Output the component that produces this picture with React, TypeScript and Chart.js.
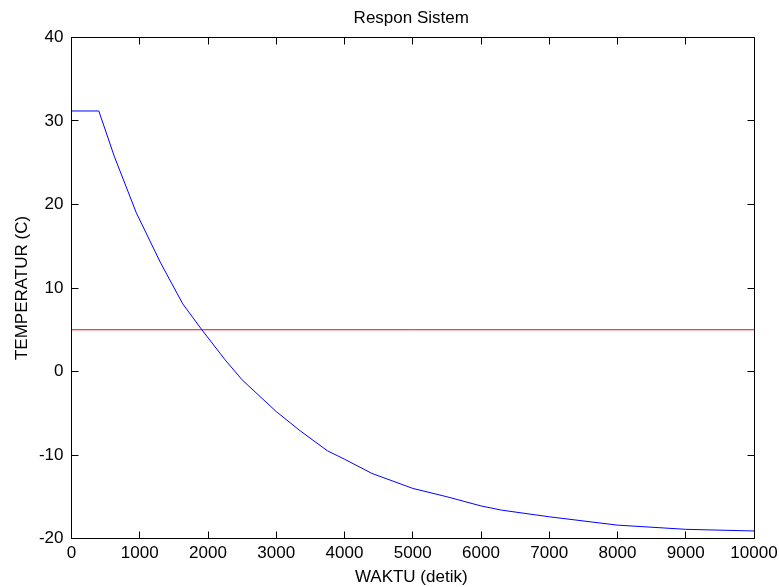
import React, { useEffect, useRef } from "react";
import { Chart, registerables } from "chart.js";

Chart.register(...registerables);

// Time (detik) and temperature (C)
const timeValues = [0, 400, 630, 950, 1300, 1630, 1910, 2250, 2500, 3000, 3350, 3750, 4000, 4400, 5000, 5500, 6000, 6300, 7000, 8000, 9000, 10000];
const tempValues = [31.2, 31.2, 25.7, 19.0, 13.1, 8.1, 5.0, 1.4, -1.0, -4.8, -7.1, -9.5, -10.5, -12.2, -14.0, -15.0, -16.1, -16.6, -17.4, -18.4, -18.9, -19.1];
const setpointTimes = [0, 10000];
const setpointValues = [5, 5];

const xTicks = [0, 1000, 2000, 3000, 4000, 5000, 6000, 7000, 8000, 9000, 10000];
const yTicks = [-20, -10, 0, 10, 20, 30, 40];

const titleText = "Respon Sistem";
const xTitle = "WAKTU (detik)";
const yTitle = "TEMPERATUR (C)";

const SANS = '"Liberation Sans", Arial, sans-serif';

const framePlugin = {
  id: "matlabFrame",
  afterDraw(chart: any) {
    const { ctx, chartArea } = chart;
    const { left, right, top, bottom } = chartArea;
    const xs = chart.scales.x;
    const ys = chart.scales.y;
    const crisp = (p: number) => Math.round(p - 0.5) + 0.5;
    ctx.save();
    ctx.strokeStyle = "#000";
    ctx.lineWidth = 1;
    ctx.beginPath();
    ctx.rect(crisp(left), crisp(top), crisp(right) - crisp(left), crisp(bottom) - crisp(top));
    ctx.stroke();
    const tl = 7;
    ctx.beginPath();
    xTicks.forEach((v) => {
      const px = crisp(xs.getPixelForValue(v));
      ctx.moveTo(px, crisp(bottom));
      ctx.lineTo(px, crisp(bottom) - tl);
      ctx.moveTo(px, crisp(top));
      ctx.lineTo(px, crisp(top) + tl);
    });
    yTicks.forEach((v) => {
      const py = crisp(ys.getPixelForValue(v));
      ctx.moveTo(crisp(left), py);
      ctx.lineTo(crisp(left) + tl, py);
      ctx.moveTo(crisp(right), py);
      ctx.lineTo(crisp(right) - tl, py);
    });
    ctx.stroke();

    const cx = (left + right) / 2 - 1.5;
    ctx.fillStyle = "#000";
    ctx.font = `17px ${SANS}`;
    ctx.textAlign = "center";
    ctx.textBaseline = "alphabetic";
    ctx.fillText(titleText, cx, 22.7);
    ctx.fillText(xTitle, cx, 582);

    ctx.translate(27, (top + bottom) / 2);
    ctx.rotate(-Math.PI / 2);
    ctx.fillText(yTitle, 0, 0);
    ctx.restore();
  },
};

export default function App() {
  const canvasRef = useRef<HTMLCanvasElement | null>(null);

  useEffect(() => {
    document.body.style.margin = "0";
    const canvas = canvasRef.current;
    if (!canvas) return;
    const chart = new Chart(canvas, {
      type: "line",
      data: {
        datasets: [
          {
            label: "Respon",
            data: timeValues.map((t, i) => ({ x: t, y: tempValues[i] })),
            borderColor: "#0000ff",
            borderWidth: 1,
            pointRadius: 0,
            tension: 0,
            fill: false,
          },
          {
            label: "Setpoint",
            data: setpointTimes.map((t, i) => ({ x: t, y: setpointValues[i] })),
            borderColor: "#ff0000",
            borderWidth: 1,
            pointRadius: 0,
            tension: 0,
            fill: false,
          },
        ],
      },
      options: {
        animation: false,
        responsive: false,
        devicePixelRatio: 1,
        layout: { padding: { left: 0, top: 37.5, right: 25, bottom: 0 } },
        plugins: {
          legend: { display: false },
          title: { display: false },
          tooltip: { enabled: false },
        },
        scales: {
          x: {
            type: "linear",
            min: 0,
            max: 10000,
            afterBuildTicks: (scale: any) => {
              scale.ticks = xTicks.map((v) => ({ value: v }));
            },
            afterFit: (scale: any) => {
              scale.height = 48.5;
              scale.paddingLeft = 0;
              scale.paddingRight = 0;
            },
            grid: { display: false, drawTicks: false },
            border: { display: false },
            ticks: {
              padding: 5,
              maxRotation: 0,
              autoSkip: false,
              color: "#000",
              font: { family: SANS, size: 17 },
              callback: (v: any) => String(v),
            },
          },
          y: {
            type: "linear",
            min: -20,
            max: 40,
            afterBuildTicks: (scale: any) => {
              scale.ticks = yTicks.map((v) => ({ value: v }));
            },
            afterFit: (scale: any) => {
              scale.width = 71.5;
              scale.paddingTop = 0;
              scale.paddingBottom = 0;
            },
            grid: { display: false, drawTicks: false },
            border: { display: false },
            ticks: {
              padding: 8,
              autoSkip: false,
              color: "#000",
              font: { family: SANS, size: 17 },
              callback: (v: any) => String(v),
            },
          },
        },
      },
      plugins: [framePlugin],
    });
    return () => chart.destroy();
  }, []);

  return (
    <div style={{ position: "fixed", left: 0, top: 0, width: 779, height: 587, background: "#fff" }}>
      <canvas ref={canvasRef} width={779} height={587} style={{ display: "block" }} />
    </div>
  );
}
